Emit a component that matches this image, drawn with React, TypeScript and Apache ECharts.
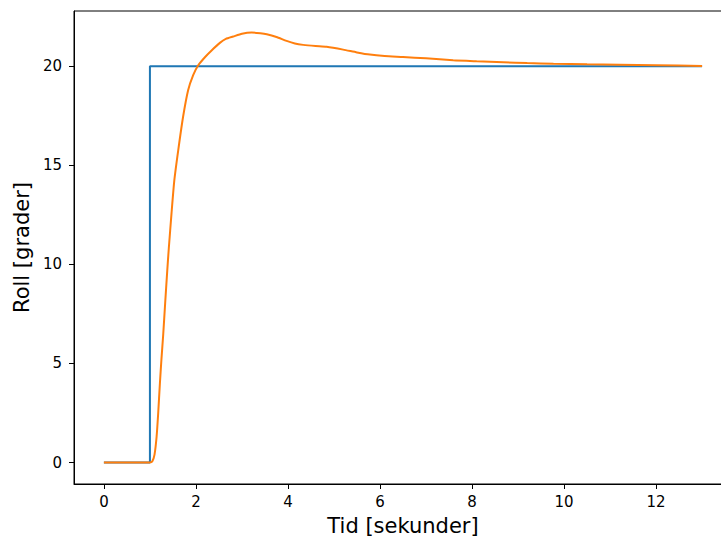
import React, { useEffect, useRef } from "react";
import * as echarts from "echarts";

const referenceT = [0, 1, 1, 13];
const referenceV = [0, 0, 20, 20];

const rollT = [0, 1.0, 1.05, 1.1, 1.145, 1.18, 1.217, 1.25, 1.29, 1.33, 1.377, 1.41, 1.47, 1.53, 1.615, 1.72, 1.83, 1.94, 2.05, 2.2, 2.34, 2.52, 2.65, 2.81, 3.0, 3.21, 3.4, 3.54, 3.75, 3.97, 4.15, 4.33, 4.6, 4.84, 5.2, 5.5, 5.78, 6.1, 6.5, 7.0, 7.59, 8.1, 8.68, 9.2, 9.77, 10.5, 11.2, 12.0, 13.0];
const rollV = [0, 0, 0.05, 0.4, 1.3, 2.5, 4.0, 5.2, 6.5, 8.0, 9.7, 10.8, 12.6, 14.24, 15.76, 17.44, 18.79, 19.55, 20.05, 20.47, 20.8, 21.18, 21.38, 21.5, 21.64, 21.7, 21.67, 21.62, 21.48, 21.28, 21.15, 21.08, 21.02, 20.98, 20.84, 20.7, 20.59, 20.52, 20.47, 20.4, 20.3, 20.25, 20.2, 20.16, 20.13, 20.1, 20.08, 20.05, 20.02];

const xTicks = [0, 2, 4, 6, 8, 10, 12];
const yTicks = [0, 5, 10, 15, 20];

const FONT = "DejaVu Sans";

export default function App() {
  const ref = useRef<HTMLDivElement>(null);
  useEffect(() => {
    if (!ref.current) return;
    const chart = echarts.init(ref.current, null, { renderer: "svg" });
    const axisCommon = {
      axisLine: { show: true, onZero: false, lineStyle: { color: "#000", width: 1 } },
      splitLine: { show: false },
      nameTextStyle: { fontFamily: FONT, fontSize: 21, color: "#000" },
    };
    chart.setOption({
      animation: false,
      backgroundColor: "#fff",
      grid: {
        left: 74,
        top: 11,
        right: 8,
        bottom: 53,
        show: true,
        borderColor: "#000",
        borderWidth: 1,
        containLabel: false,
        outerBoundsMode: "none",
      },
      xAxis: {
        type: "value",
        min: -0.65,
        max: 13.65,
        name: "Tid [sekunder]",
        nameLocation: "middle",
        nameGap: 31,
        ...axisCommon,
        axisTick: { show: true, inside: false, length: 5, customValues: xTicks, lineStyle: { color: "#000" } },
        axisLabel: { customValues: xTicks, margin: 10, fontFamily: FONT, fontSize: 15, color: "#000" },
      },
      yAxis: {
        type: "value",
        min: -1.085,
        max: 22.79,
        name: "Roll [grader]",
        nameLocation: "middle",
        nameGap: 40,
        ...axisCommon,
        axisTick: { show: true, inside: false, length: 5, customValues: yTicks, lineStyle: { color: "#000" } },
        axisLabel: { customValues: yTicks, margin: 12, fontFamily: FONT, fontSize: 15, color: "#000" },
      },
      series: [
        {
          type: "line",
          data: referenceT.map((t, i) => [t, referenceV[i]]),
          showSymbol: false,
          lineStyle: { color: "#1f77b4", width: 2 },
          itemStyle: { color: "#1f77b4" },
        },
        {
          type: "line",
          data: rollT.map((t, i) => [t, rollV[i]]),
          showSymbol: false,
          smooth: 0.2,
          lineStyle: { color: "#ff7f0e", width: 2 },
          itemStyle: { color: "#ff7f0e" },
        },
      ],
    });
    return () => chart.dispose();
  }, []);
  return (
    <div style={{ position: "fixed", left: 0, top: 0, width: 721, height: 537, overflow: "hidden", background: "#fff" }}>
      <div ref={ref} style={{ width: 740, height: 537 }} />
    </div>
  );
}
